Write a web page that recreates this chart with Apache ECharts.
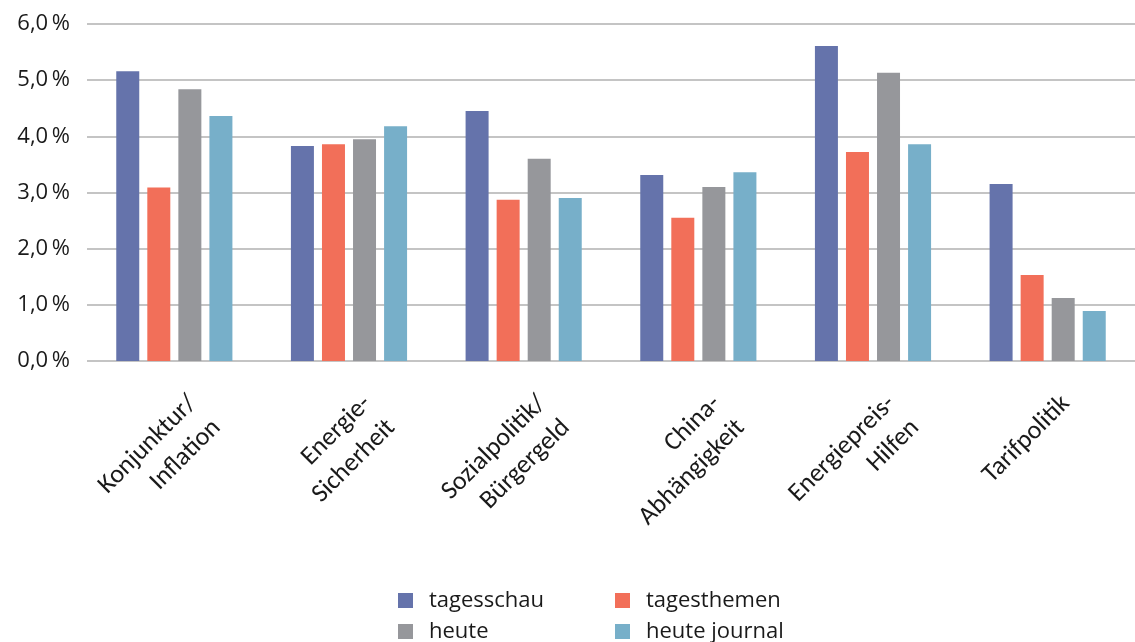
<!DOCTYPE html>
<html>
<head>
<meta charset="utf-8">
<script src="https://cdn.jsdelivr.net/npm/echarts@6/dist/echarts.min.js"></script>
<style>
  html, body { margin: 0; padding: 0; background: #ffffff; }
  #chart { width: 1135px; height: 642px; }
</style>
</head>
<body>
<div id="chart"></div>
<script>
// Topics (x axis) and share of coverage per news programme, in percent
const categories = [
  'Konjunktur/\nInflation',
  'Energie-\nSicherheit',
  'Sozialpolitik/\nBürgergeld',
  'China-\nAbhängigkeit',
  'Energiepreis-\nHilfen',
  'Tarifpolitik'
];
const seriesNames = ['tagesschau', 'tagesthemen', 'heute', 'heute journal'];
const tagesschau   = [5.16, 3.83, 4.45, 3.31, 5.61, 3.15];
const tagesthemen  = [3.09, 3.86, 2.87, 2.55, 3.72, 1.53];
const heute        = [4.84, 3.95, 3.60, 3.10, 5.13, 1.12];
const heuteJournal = [4.36, 4.18, 2.90, 3.36, 3.86, 0.89];
const yTicks = [0, 1, 2, 3, 4, 5, 6];

const colors = ['#6573ab', '#f26f59', '#96979b', '#77afc9'];
const seriesData = [tagesschau, tagesthemen, heute, heuteJournal];

const chart = echarts.init(document.getElementById('chart'), null, { renderer: 'canvas' });

const legendText = { fontFamily: 'Open Sans', fontSize: 22, color: '#1a1a1a', lineHeight: 22, padding: [0, 0, 0, 11] };
const legendBase = {
  orient: 'vertical', top: 589.5, height: 70, padding: 0,
  itemWidth: 15, itemHeight: 15, itemGap: 9,
  icon: 'rect', textStyle: legendText, selectedMode: false
};

chart.setOption({
  animation: false,
  backgroundColor: '#ffffff',
  color: colors,
  grid: { left: 87, top: 24, width: 1062, bottom: 281, containLabel: false },
  legend: [
    Object.assign({ data: [seriesNames[0], seriesNames[2]], left: 398 }, legendBase),
    Object.assign({ data: [seriesNames[1], seriesNames[3]], left: 615 }, legendBase)
  ],
  xAxis: {
    type: 'category',
    data: categories,
    axisLine: { show: false },
    axisTick: { show: false },
    axisLabel: {
      interval: 0,
      rotate: 45,
      align: 'right',
      verticalAlign: 'top',
      margin: 12,
      padding: [15, 6, 0, 0],
      fontFamily: 'Carlito, Lato',
      fontSize: 26,
      lineHeight: 34,
      color: '#1a1a1a'
    }
  },
  yAxis: {
    type: 'value',
    min: yTicks[0],
    max: yTicks[yTicks.length - 1],
    interval: 1,
    axisLine: { show: false },
    axisTick: { show: false },
    splitLine: { lineStyle: { color: '#c4c4c4', width: 2 } },
    axisLabel: {
      margin: 17,
      fontFamily: 'Open Sans',
      fontSize: 22,
      color: '#1a1a1a',
      formatter: v => v.toFixed(1).replace('.', ',') + '\u2009%'
    }
  },
  series: seriesNames.map((name, i) => ({
    name,
    type: 'bar',
    data: seriesData[i],
    barWidth: 23,
    barGap: '35%',
    itemStyle: { color: colors[i] }
  }))
});
</script>
</body>
</html>
